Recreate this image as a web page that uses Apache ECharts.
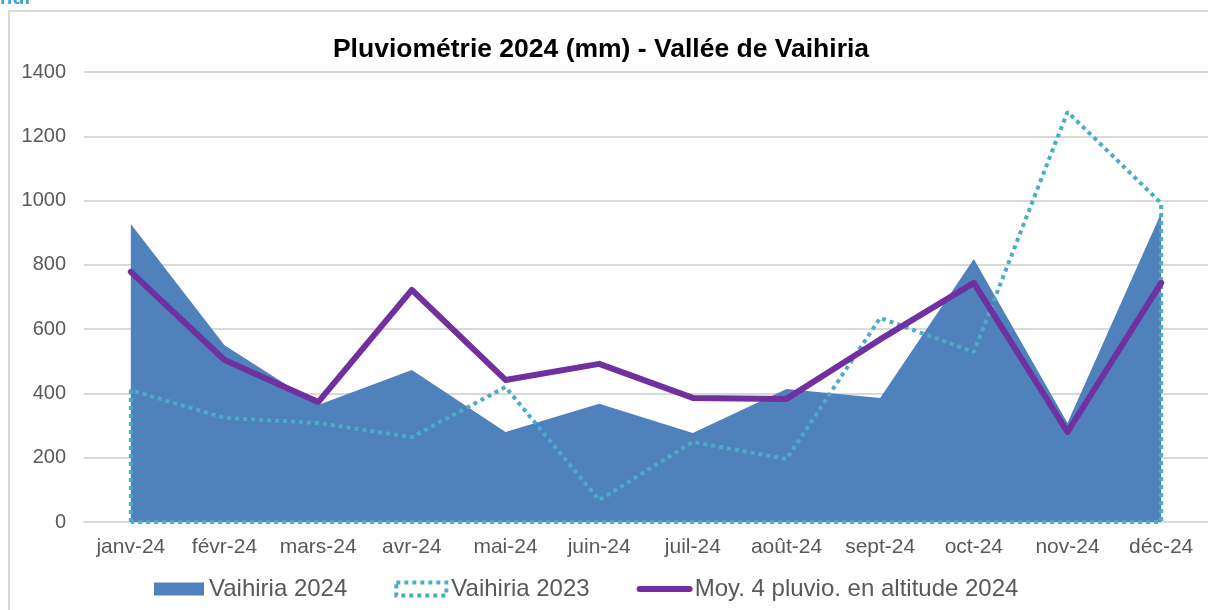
<!DOCTYPE html>
<html>
<head>
<meta charset="utf-8">
<script src="https://cdn.jsdelivr.net/npm/echarts@6/dist/echarts.min.js"></script>
<style>
  html, body { margin: 0; padding: 0; background: #fff; }
  #chart { width: 1208px; height: 610px; }
</style>
</head>
<body>
<div id="chart"></div>
<script>
// catégories et valeurs
var months = ['janv-24', 'févr-24', 'mars-24', 'avr-24', 'mai-24', 'juin-24',
              'juil-24', 'août-24', 'sept-24', 'oct-24', 'nov-24', 'déc-24'];
var vaihiria2024 = [927, 550, 364, 473, 280, 368, 277, 414, 386, 818, 308, 961];
var vaihiria2023 = [410, 324, 308, 264, 420, 68, 249, 196, 635, 529, 1276, 992];
var moyAltitude2024 = [778, 504, 373, 722, 442, 492, 386, 383, 568, 744, 280, 744];
var yTicks = [0, 200, 400, 600, 800, 1000, 1200, 1400];

var textColor = '#595959';
var gridColor = '#d9d9d9';

// contour fermé de la série 2023 (aire sans remplissage, bord pointillé)
var contour2023 = [[0, 0]];
vaihiria2023.forEach(function (v, i) { contour2023.push([i, v]); });
contour2023.push([vaihiria2023.length - 1, 0]);
contour2023.push([0, 0]);

var myChart = echarts.init(document.getElementById('chart'));
var option = {
    backgroundColor: '#fff',
    animation: false,
    textStyle: { fontFamily: 'Liberation Sans, Arial, sans-serif' },
    title: {
        text: 'Pluviométrie 2024 (mm) - Vallée de Vaihiria',
        left: 596,
        top: 31,
        textAlign: 'center',
        textStyle: { fontSize: 26.5, fontWeight: 'bold', color: '#000' }
    },
    graphic: [
        {
            type: 'rect',
            shape: { x: 9, y: 11, width: 1400, height: 800 },
            style: { fill: 'none', stroke: gridColor, lineWidth: 2 },
            silent: true
        },
        {
            type: 'text',
            left: 0,
            top: -12,
            style: { text: 'nui', fill: '#3aa7dc', font: 'bold 20px Liberation Sans' }
        }
    ],
    legend: {
        left: 149,
        top: 572,
        itemWidth: 50,
        itemHeight: 13,
        itemGap: 47,
        textStyle: { fontSize: 24, color: textColor },
        data: [
            { name: 'Vaihiria 2024', icon: 'rect', itemStyle: { color: '#4f81bd' } },
            {
                name: 'Vaihiria 2023', icon: 'rect',
                itemStyle: { color: 'rgba(0,0,0,0)', borderColor: '#4bacc6', borderWidth: 4, borderType: [4, 4] }
            },
            {
                name: 'Moy. 4 pluvio. en altitude 2024',
                itemStyle: { opacity: 0 },
                lineStyle: { width: 6, cap: 'round' }
            }
        ]
    },
    grid: { left: 84, top: 72, width: 1133, height: 450 },
    xAxis: [
        {
            type: 'category',
            data: months,
            boundaryGap: true,
            axisTick: { show: false },
            axisLine: { lineStyle: { color: gridColor, width: 2 } },
            axisLabel: { color: textColor, fontSize: 21, margin: 15, interval: 0 }
        },
        {
            type: 'value',
            min: -0.5,
            max: months.length - 0.5,
            show: false
        }
    ],
    yAxis: {
        type: 'value',
        min: yTicks[0],
        max: yTicks[yTicks.length - 1],
        interval: 200,
        axisLine: { show: false },
        axisTick: { show: false },
        axisLabel: {
            color: textColor, fontSize: 20, margin: 18,
            formatter: function (v) { return String(v); }
        },
        splitLine: { lineStyle: { color: gridColor, width: 2 } }
    },
    series: [
        {
            name: 'Vaihiria 2024',
            type: 'line',
            data: vaihiria2024,
            symbol: 'none',
            lineStyle: { width: 0, opacity: 0 },
            areaStyle: { color: '#4f81bd', opacity: 1 },
            itemStyle: { color: '#4f81bd' },
            z: 1
        },
        {
            name: 'Vaihiria 2023',
            type: 'line',
            xAxisIndex: 1,
            data: contour2023,
            symbol: 'none',
            itemStyle: { color: '#4bacc6' },
            lineStyle: { color: '#4bacc6', width: 4, type: [4, 4], cap: 'butt' },
            z: 2
        },
        {
            name: 'Moy. 4 pluvio. en altitude 2024',
            type: 'line',
            data: moyAltitude2024,
            symbol: 'none',
            itemStyle: { color: '#7030a0' },
            lineStyle: { color: '#7030a0', width: 6, join: 'round', cap: 'round' },
            z: 3
        }
    ]
};
myChart.setOption(option);
</script>
</body>
</html>
